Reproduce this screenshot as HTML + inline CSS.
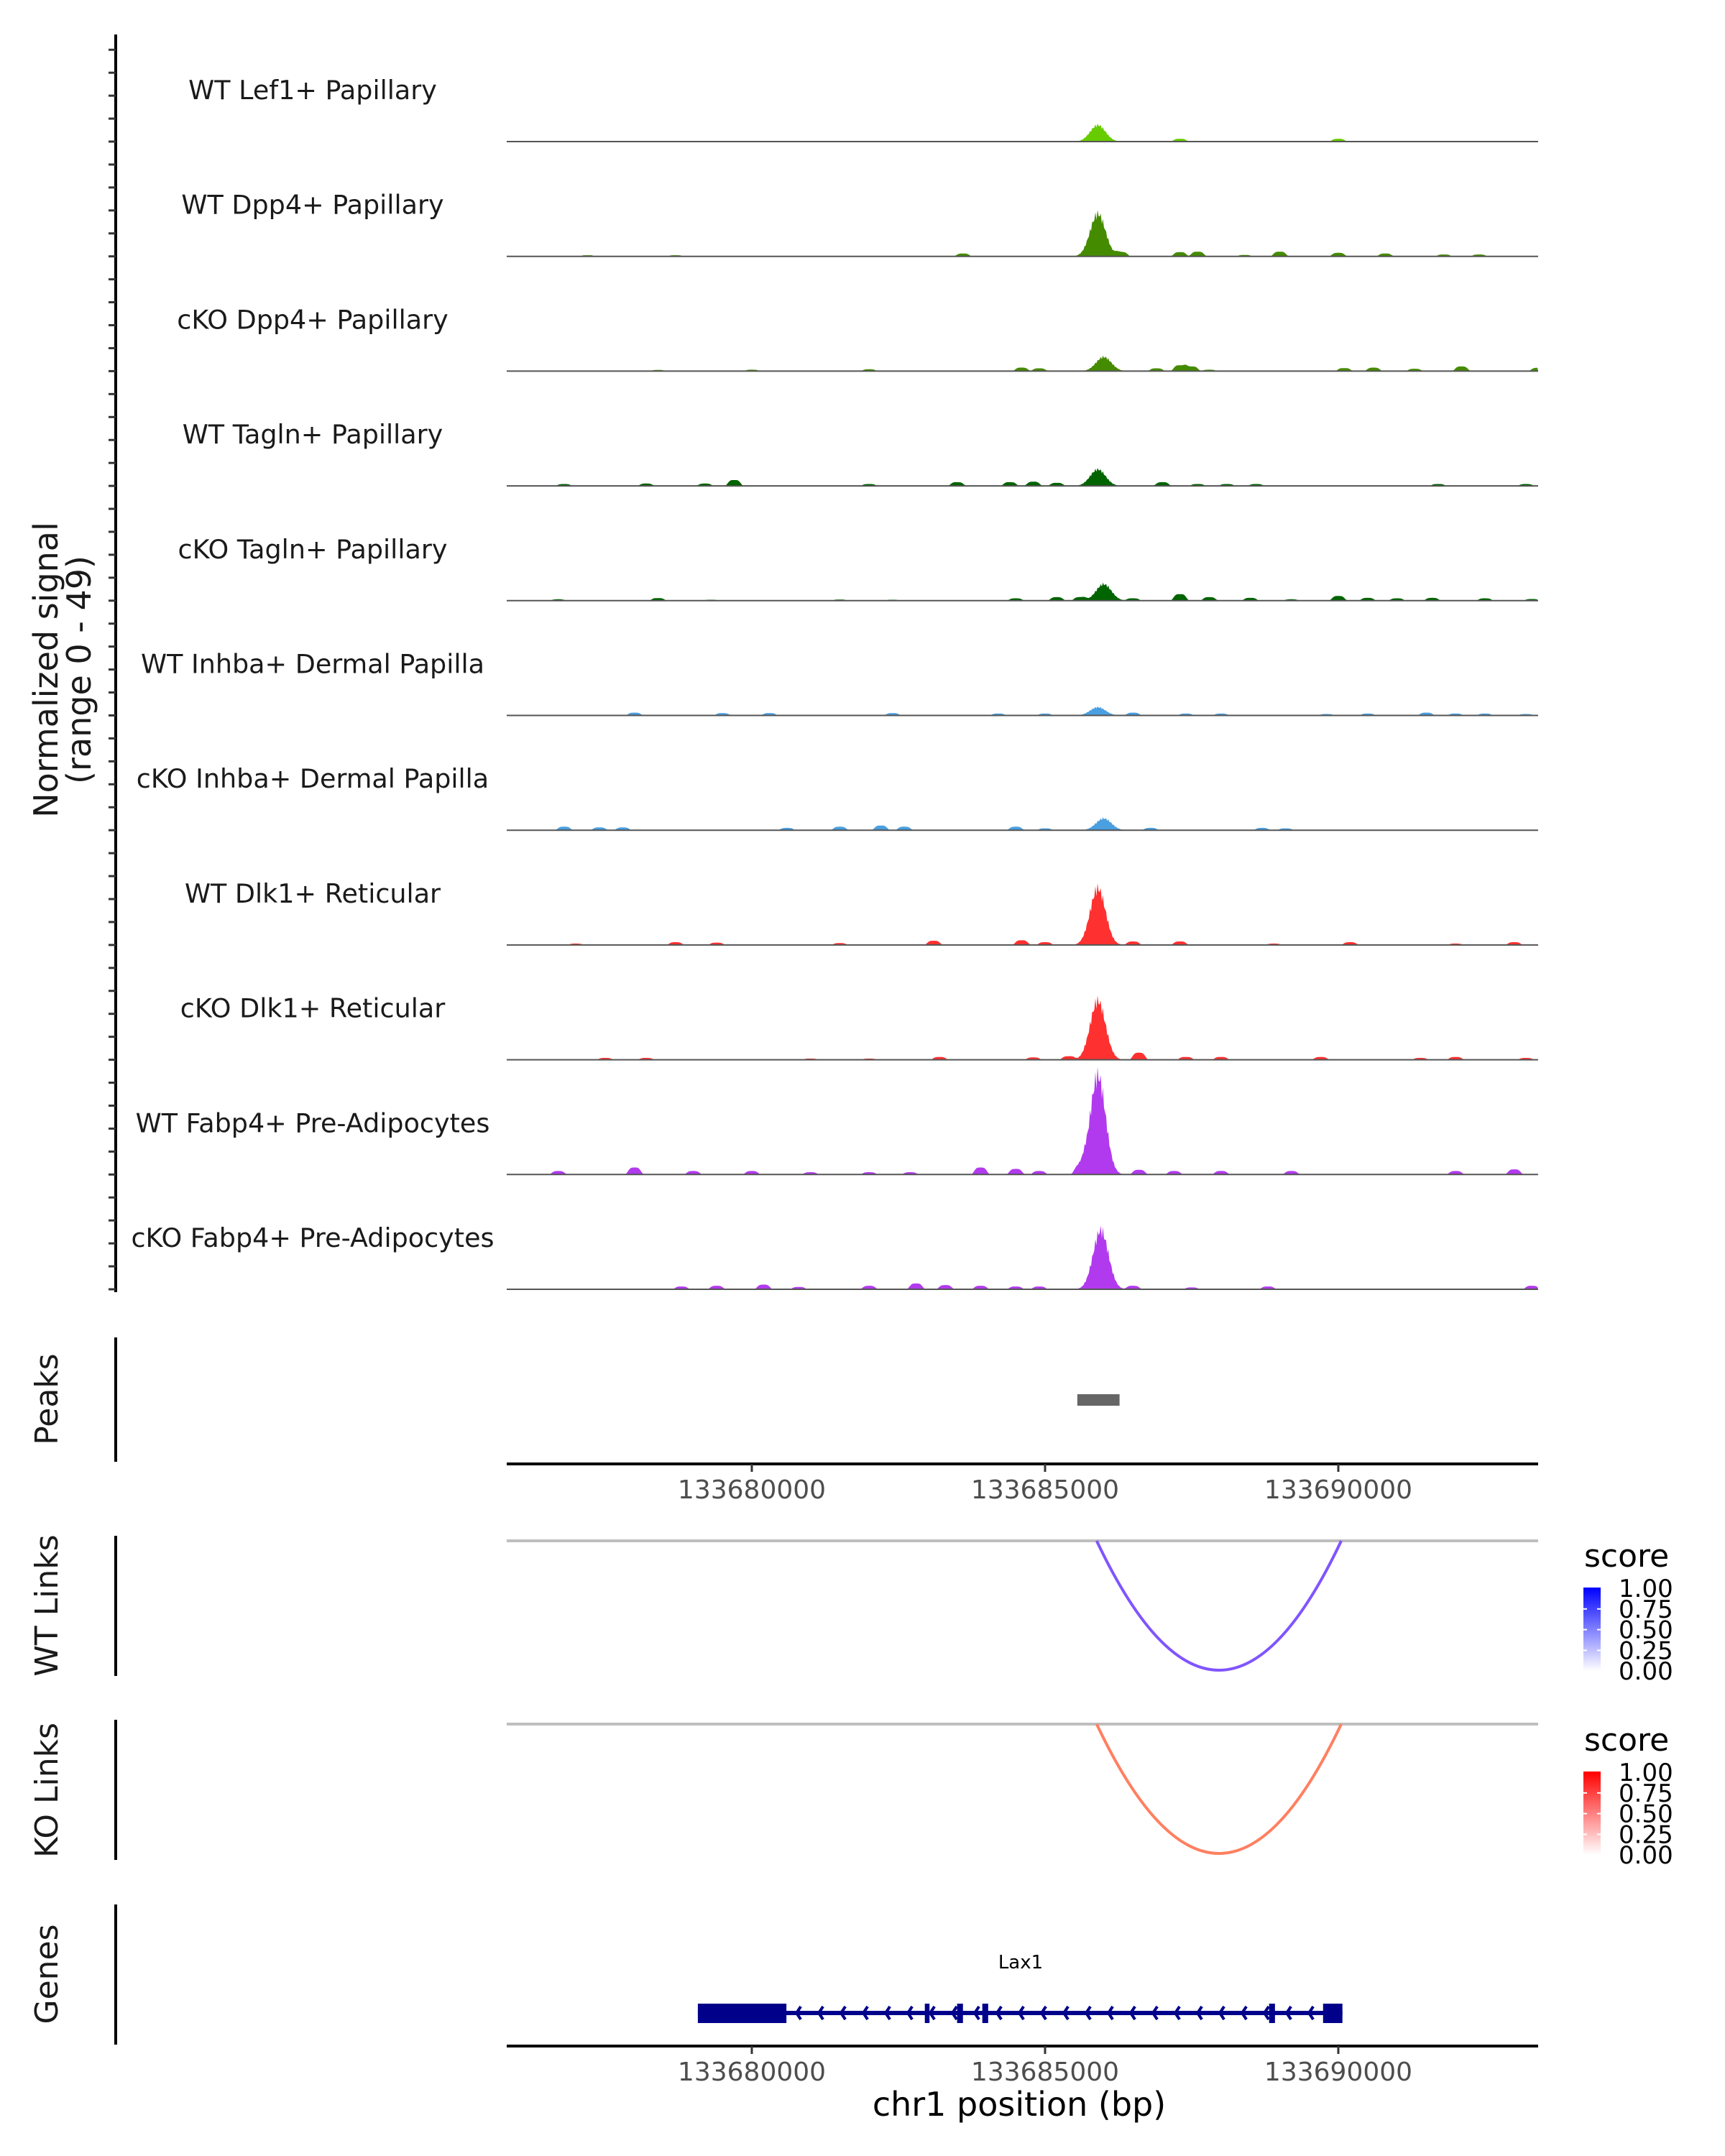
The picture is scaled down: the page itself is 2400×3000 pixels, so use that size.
<!DOCTYPE html>
<html><head><meta charset="utf-8"><style>
html,body{margin:0;padding:0;background:#fff}
svg{display:block}
text{font-family:"DejaVu Sans","Liberation Sans",sans-serif}
</style></head><body>
<svg id="fig" xmlns="http://www.w3.org/2000/svg" width="2400" height="3000" viewBox="0 0 2400 3000">
<g id="tracks"></g>
<g id="ticksL"></g>
<text transform="translate(80,932) rotate(-90)" text-anchor="middle" font-size="46" fill="#1a1a1a">Normalized signal</text>
<text transform="translate(126,932) rotate(-90)" text-anchor="middle" font-size="46" fill="#1a1a1a">(range 0 - 49)</text>

<line x1="161" y1="1861" x2="161" y2="2034" stroke="#000" stroke-width="4"/>
<text transform="translate(80,1947) rotate(-90)" text-anchor="middle" font-size="44" fill="#1a1a1a">Peaks</text>
<g id="peaks"></g>
<g id="xaxis1"></g>

<line x1="161" y1="2137" x2="161" y2="2332" stroke="#000" stroke-width="4"/>
<text transform="translate(80,2234) rotate(-90)" text-anchor="middle" font-size="44" fill="#1a1a1a">WT Links</text>
<line x1="161" y1="2393" x2="161" y2="2588" stroke="#000" stroke-width="4"/>
<text transform="translate(80,2491) rotate(-90)" text-anchor="middle" font-size="44" fill="#1a1a1a">KO Links</text>
<g id="links"></g>

<defs>
<linearGradient id="gb" x1="0" y1="1" x2="0" y2="0"><stop offset="0" stop-color="#ffffff"/><stop offset="1" stop-color="#0000ff"/></linearGradient>
<linearGradient id="gr" x1="0" y1="1" x2="0" y2="0"><stop offset="0" stop-color="#ffffff"/><stop offset="1" stop-color="#ff0000"/></linearGradient>
</defs>
<g id="legends"></g>

<line x1="161" y1="2650" x2="161" y2="2845" stroke="#000" stroke-width="4"/>
<text transform="translate(80,2747) rotate(-90)" text-anchor="middle" font-size="44" fill="#1a1a1a">Genes</text>
<g id="genes"></g>
<g id="xaxis2"></g>
<text x="1418" y="2944" text-anchor="middle" font-size="46" fill="#000">chr1 position (bp)</text>
</svg>
<script>
const NS="http://www.w3.org/2000/svg";
// track data: peak positions (kb from 133680000) and heights (signal units, range 0-49)
const trackNames=["WT Lef1+ Papillary","WT Dpp4+ Papillary","cKO Dpp4+ Papillary","WT Tagln+ Papillary","cKO Tagln+ Papillary","WT Inhba+ Dermal Papilla","cKO Inhba+ Dermal Papilla","WT Dlk1+ Reticular","cKO Dlk1+ Reticular","WT Fabp4+ Pre-Adipocytes","cKO Fabp4+ Pre-Adipocytes"];
const trackColors=["#66cc00","#458b00","#458b00","#006400","#006400","#4a9fe0","#4a9fe0","#ff3030","#ff3030","#b23aee","#b23aee"];
const mainPos=[5.9,5.9,6.0,5.9,6.0,5.9,6.0,5.9,5.9,5.9,5.95];
const mainHeight=[7,18,6,7,7,3.5,5,24,25,42,25];
const bumpPos=[
[7.3,10.0,-2.5,1.0,12.5],
[-2.8,-1.3,3.6,6.3,7.3,7.6,8.4,9.0,10.0,10.8,11.8,12.4],
[0.0,-1.6,2.0,4.6,4.9,6.9,7.3,7.5,7.8,10.1,10.6,11.3,12.1,13.4],
[-3.2,-1.8,-0.8,-0.3,2.0,3.5,4.4,4.8,5.2,7.0,7.6,8.1,8.6,11.7,13.2],
[-3.3,-1.6,-0.7,1.5,2.4,4.5,5.2,5.6,6.5,7.3,7.8,8.5,9.2,10.0,10.5,11.0,11.6,12.5,13.3],
[-2.0,-0.5,0.3,2.4,4.2,5.0,6.5,7.4,8.0,9.8,10.5,11.5,12.0,12.5,13.2],
[-3.2,-2.6,-2.2,0.6,1.5,2.2,2.6,4.5,5.0,6.8,8.7,9.1],
[-3.0,-1.3,-0.6,1.5,3.1,4.6,5.0,6.5,7.3,8.9,10.2,12.0,13.0],
[-2.5,-1.8,1.0,2.0,3.2,4.8,5.4,6.6,7.4,8.0,9.7,11.4,12.0,13.2],
[-3.3,-2.0,-1.0,0.0,1.0,2.0,2.7,3.9,4.5,4.9,5.6,6.6,7.2,8.0,9.2,12.0,13.0],
[-1.2,-0.6,0.2,0.8,2.0,2.8,3.3,3.9,4.5,4.9,6.5,7.5,8.8,13.3]];
const bumpHeight=[
[1.2,1.2,0.3,0.3,0.3],
[0.5,0.5,1.2,1.8,1.8,2.0,0.6,2.0,1.5,1.2,0.8,0.8],
[0.6,0.5,0.8,1.5,1.2,1.2,2.5,2.0,0.6,1.3,1.5,1.0,2.0,1.4],
[0.8,1.0,1.0,2.5,0.8,1.6,1.6,1.8,1.3,1.6,0.8,0.8,0.8,0.8,0.8],
[0.6,1.1,0.4,0.5,0.4,1.0,1.5,1.5,1.0,2.8,1.5,1.2,0.6,2.0,1.2,1.0,1.2,1.0,0.7],
[1.2,1.0,1.0,1.0,0.8,0.8,1.2,0.8,0.8,0.6,0.8,1.2,0.8,0.8,0.6],
[1.5,1.2,1.2,1.0,1.5,2.0,1.5,1.5,0.8,1.0,1.0,0.8],
[0.6,1.2,1.0,0.8,1.8,2.0,1.2,1.5,1.5,0.6,1.2,0.6,1.2],
[0.8,0.8,0.5,0.5,1.2,1.0,1.5,3.0,1.2,1.2,1.2,0.8,1.2,0.8],
[1.5,3.0,1.5,1.5,1.0,1.0,1.0,3.0,2.4,1.5,3.0,2.0,1.5,1.5,1.5,1.5,2.2],
[1.2,1.5,2.0,1.0,1.5,2.5,1.8,1.5,1.2,1.2,1.5,0.8,1.2,1.5]];
const xTicks=[133680000,133685000,133690000];
const peakRegion=[5.55,6.27];
const wtLink=[5.88,10.05], koLink=[5.88,10.05];
const linkScore=[0.55,0.55];
const legendTicks=["1.00","0.75","0.50","0.25","0.00"];
const geneName="Lax1";
const geneSpan=[-0.92,10.07];
const exonStarts=[-0.92,2.95,3.5,3.93,8.82,9.74];
const exonEnds=[0.59,3.03,3.6,4.03,8.92,10.07];

const X0=705,X1=2140;
const xs=kb=>1046+kb*81.6;
const xsBp=bp=>xs((bp-133680000)/1000);
const BASE0=197,STEP=159.7,YMAX=49;
const ys=(i,v)=>BASE0+i*STEP-v/YMAX*STEP;
function mk(tag,attrs,parent){const e=document.createElementNS(NS,tag);for(const k in attrs)e.setAttribute(k,attrs[k]);parent.appendChild(e);return e;}

const tracks=document.getElementById('tracks');
trackNames.forEach((nm,i)=>{
  const g=mk('g',{},tracks);
  
  
  const lab=mk('text',{x:435,y:BASE0+i*STEP-59,'text-anchor':'middle','font-size':'36.5',fill:'#1a1a1a'},g);
  lab.textContent=nm;
  
  
  let d='M'+X0+','+ys(i,0);
  for(let x=X0;x<=X1;x+=1.5){
    const kb=(x-1046)/81.6;
    let v=0;
    const dm=(kb-mainPos[i])/0.13;
    v+=mainHeight[i]*Math.exp(-dm*dm/2)*(1+0.12*Math.sin(x*1.7));
    bumpPos[i].forEach((p,j)=>{const dd=(kb-p)/0.1;v+=bumpHeight[i][j]*Math.exp(-dd*dd*dd*dd/2);});
    if(v<0.25)v=0;
    d+=' L'+x.toFixed(1)+','+ys(i,v).toFixed(1);
  }
  d+=' L'+X1+','+ys(i,0)+' Z';
  const p=mk('path',{d:d,fill:trackColors[i]},g);
  
  
  const bl=mk('line',{x1:X0,x2:X1,y1:ys(i,0),y2:ys(i,0),stroke:'#555',"stroke-width":2},g);
  
  
});
// left axis
const tl=document.getElementById('ticksL');
mk('line',{x1:161,x2:161,y1:48,y2:1798,stroke:'#000','stroke-width':4},tl);
trackNames.forEach((nm,i)=>{
  for(let k=0;k<5;k++){const y=BASE0+i*STEP-k*STEP/5;
    if(y<48)continue;
    mk('line',{x1:151,x2:161,y1:y,y2:y,stroke:'#333','stroke-width':3},tl);}
});
// peaks
const pk=mk('rect',{x:xs(peakRegion[0]),y:1940,width:xs(peakRegion[1])-xs(peakRegion[0]),height:16,fill:'#666'},document.getElementById('peaks'));


// x axes
function xaxis(id,y){
  const g=document.getElementById(id);
  mk('line',{x1:X0,x2:X1,y1:y,y2:y,stroke:'#000','stroke-width':4},g);
  xTicks.forEach(t=>{
    const x=xsBp(t);
    mk('line',{x1:x,x2:x,y1:y,y2:y+11,stroke:'#333','stroke-width':3},g);
    const tx=mk('text',{x:x,y:y+48,'text-anchor':'middle','font-size':'36',fill:'#4d4d4d'},g);
    tx.textContent=t;
    
    
  });
}
xaxis('xaxis1',2037);
xaxis('xaxis2',2847);
// links
const lg=document.getElementById('links');
[[wtLink,2144,'#8055ff',0],[koLink,2399,'#ff7f60',1]].forEach(([lk,y,c,k])=>{
  mk('line',{x1:X0,x2:X1,y1:y,y2:y,stroke:'#bebebe','stroke-width':4},lg);
  const a=xs(lk[0]),b=xs(lk[1]),depth=180*linkScore[k]/0.55;
  const arc=mk('path',{d:`M${a},${y} Q${(a+b)/2},${y+depth*2} ${b},${y}`,fill:'none',stroke:c,'stroke-width':4},lg);
  
  
});
// legends
const lgd=document.getElementById('legends');
[[0,'gb'],[256,'gr']].forEach(([off,gid])=>{
  const t=mk('text',{x:2204,y:2180+off,'font-size':'44',fill:'#000'},lgd);t.textContent='score';
  mk('rect',{x:2203,y:2209+off,width:24,height:116,fill:`url(#${gid})`},lgd);
  legendTicks.forEach((s,j)=>{
    const y=2210+off+j*28.8;
    if(j>0&&j<4){mk('line',{x1:2203,x2:2208,y1:y,y2:y,stroke:'#fff','stroke-width':2},lgd);mk('line',{x1:2222,x2:2227,y1:y,y2:y,stroke:'#fff','stroke-width':2},lgd);}
    const tx=mk('text',{x:2252,y:y+12,'font-size':'34',fill:'#000'},lgd);tx.textContent=s;
  });
});
// genes
const gg=document.getElementById('genes');
const gl=mk('text',{x:1420,y:2739,'text-anchor':'middle','font-size':'26',fill:'#000'},gg);gl.textContent=geneName;


mk('line',{x1:xs(geneSpan[0]),x2:xs(geneSpan[1]),y1:2801,y2:2801,stroke:'#00008b','stroke-width':6},gg);
for(let x=xs(exonEnds[0])+14;x<xs(geneSpan[1])-10;x+=31){
  mk('path',{d:`M${x+6},${2792} L${x},${2801} L${x+6},${2810}`,fill:'none',stroke:'#00008b','stroke-width':4},gg);
}
exonStarts.forEach((s,j)=>{
  const r=mk('rect',{x:xs(s),y:2788,width:Math.max(xs(exonEnds[j])-xs(s),6),height:27,fill:'#00008b'},gg);
  
  
});
</script>
</body></html>
